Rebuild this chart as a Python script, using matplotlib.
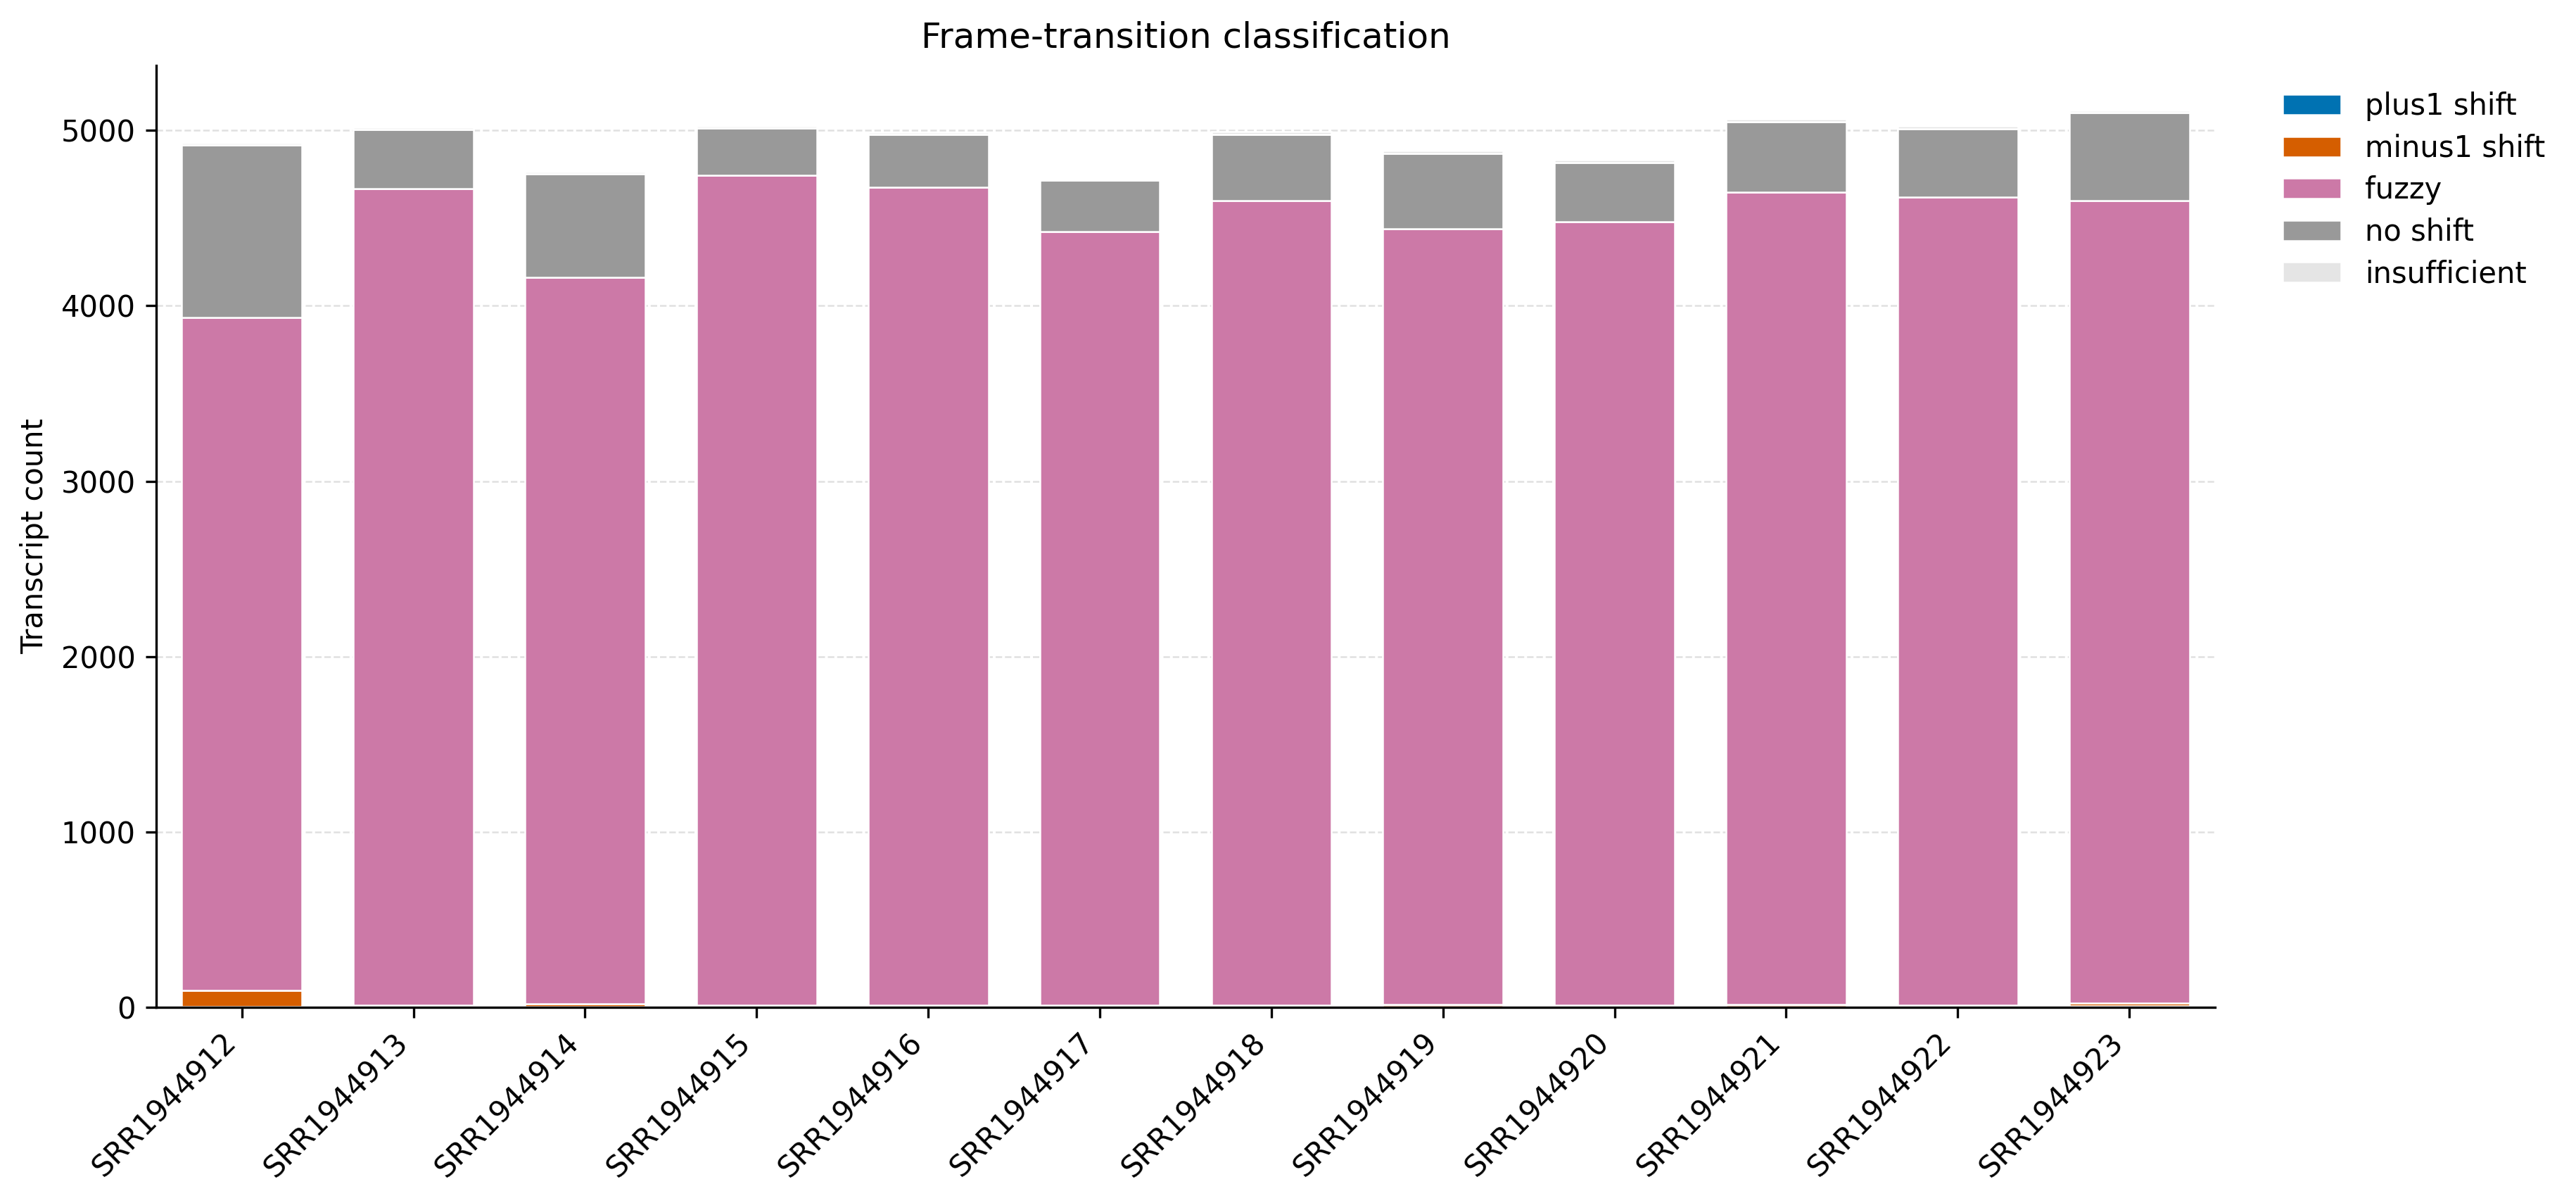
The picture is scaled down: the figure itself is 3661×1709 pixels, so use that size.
import numpy as np
import matplotlib
matplotlib.use('Agg')
import matplotlib.pyplot as plt

samples = ['SRR1944912', 'SRR1944913', 'SRR1944914', 'SRR1944915',
           'SRR1944916', 'SRR1944917', 'SRR1944918', 'SRR1944919',
           'SRR1944920', 'SRR1944921', 'SRR1944922', 'SRR1944923']

# counts per class, stacked bottom -> top
plus1_shift = [3, 4, 3, 4, 3, 4, 3, 4, 3, 4, 3, 8]
minus1_shift = [92, 8, 18, 8, 8, 8, 8, 10, 8, 10, 8, 16]
fuzzy = [3838, 4657, 4142, 4731, 4664, 4410, 4587, 4424, 4467, 4633, 4609, 4574]
no_shift = [984, 335, 591, 272, 304, 294, 379, 431, 339, 404, 391, 504]
insufficient = [13, 13, 12, 12, 10, 4, 16, 16, 14, 13, 13, 13]

classes = ['plus1 shift', 'minus1 shift', 'fuzzy', 'no shift', 'insufficient']
series = [plus1_shift, minus1_shift, fuzzy, no_shift, insufficient]
colors = ['#0072B2', '#D55E00', '#CC79A7', '#999999', '#E5E5E5']

fig = plt.figure(figsize=(3661 / 300, 1709 / 300), dpi=300)
ax = fig.add_axes([0.0606, 0.1627, 0.7993, 0.7829])

x = np.arange(len(samples))
bottom = np.zeros(len(samples))
for name, vals, col in zip(classes, series, colors):
    vals = np.array(vals, dtype=float)
    ax.bar(x, vals, width=0.7, bottom=bottom, color=col,
           edgecolor='white', linewidth=0.6, label=name)
    bottom += vals

ax.set_xlim(-0.5, len(samples) - 0.5)
ax.set_xticks(x)
ax.set_xticklabels(samples, rotation=45, ha='right', fontsize=10)
ax.tick_params(axis='y', labelsize=10)
ax.set_ylabel('Transcript count', fontsize=10)
ax.set_title('Frame-transition classification', fontsize=12)

ax.yaxis.grid(True, linestyle='--', color='#cccccc', alpha=0.6, linewidth=0.6)
ax.set_axisbelow(True)
ax.spines['top'].set_visible(False)
ax.spines['right'].set_visible(False)

ax.legend(loc='upper left', bbox_to_anchor=(1.02, 1.0), frameon=False,
          fontsize=10, labelspacing=0.42)

fig.savefig('out.png', dpi=300)
